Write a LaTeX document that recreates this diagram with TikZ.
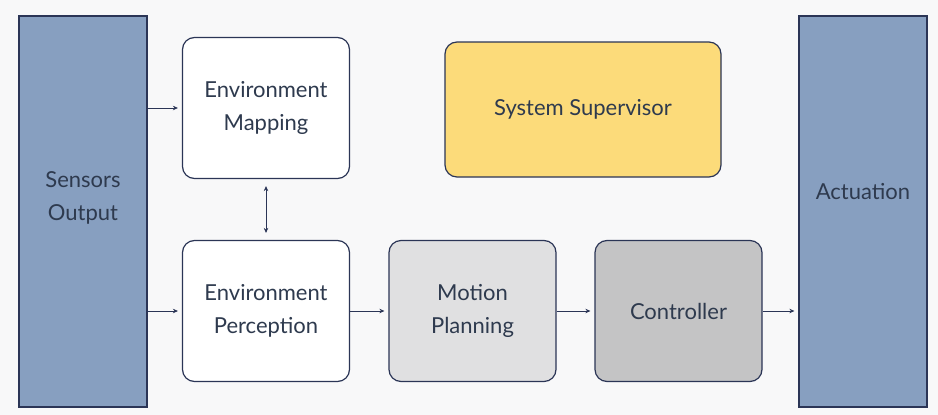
\documentclass[tikz,border=0pt]{standalone}
\usepackage{fontspec}
\setmainfont{Lato}
\usetikzlibrary{arrows.meta}

\definecolor{navy}{HTML}{2B3556}
\definecolor{ink}{HTML}{2E3A4E}
\definecolor{slate}{HTML}{879FC0}
\definecolor{paper}{HTML}{F8F8F9}
\definecolor{lightgray}{HTML}{E0E0E1}
\definecolor{midgray}{HTML}{C4C4C5}
\definecolor{sun}{HTML}{FCDB7A}

\begin{document}
\begin{tikzpicture}[
		x=1pt, y=-1pt,
		every node/.style = {font=\fontsize{22}{33}\selectfont, text=ink, align=center},
		column/.style = {draw=navy, line width=1.2pt, fill=slate, minimum width=128pt, minimum height=391pt, inner sep=0pt},
		block/.style = {draw=navy, line width=1.2pt, rounded corners=12pt, minimum width=167pt, minimum height=141pt, inner sep=0pt},
		flow/.style = {-{Stealth[length=5pt, width=4.5pt]}, navy, line width=1pt, shorten >=4pt},
	]
	\path[use as bounding box, fill=paper] (0,0) rectangle (938,415);

	\node[column] (sens) at (83,211.5) {};
	\node (senslabel) at (sens) [yshift=14pt] {Sensors\\Output};
	\node[column] (act) at (863,211.5) {};
	\node (actlabel) at (act) [yshift=20pt] {Actuation};

	\node[block, fill=white] (map) at (266,108) {Environment\\Mapping};
	\node[block, fill=white] (perc) at (266,311) {Environment\\Perception};
	\node[block, fill=lightgray] (plan) at (472.5,311) {Motion\\Planning};
	\node[block, fill=midgray] (ctrl) at (678.5,311) {Controller};
	\node[block, fill=sun, minimum width=276pt, minimum height=135pt] (sup) at (583,109.5) {System Supervisor};

	\draw[flow] (sens.east |- map.west) -- (map.west);
	\draw[flow] (sens.east |- perc.west) -- (perc.west);
	\draw[flow] (perc) -- (plan);
	\draw[flow] (plan) -- (ctrl);
	\draw[flow] (ctrl.east) -- (ctrl.east -| act.west);
	\draw[flow, arrows={Stealth[length=5pt, width=4.5pt]-Stealth[length=5pt, width=4.5pt]}, shorten <=7pt, shorten >=7pt] (map) -- (perc);
\end{tikzpicture}
\end{document}
